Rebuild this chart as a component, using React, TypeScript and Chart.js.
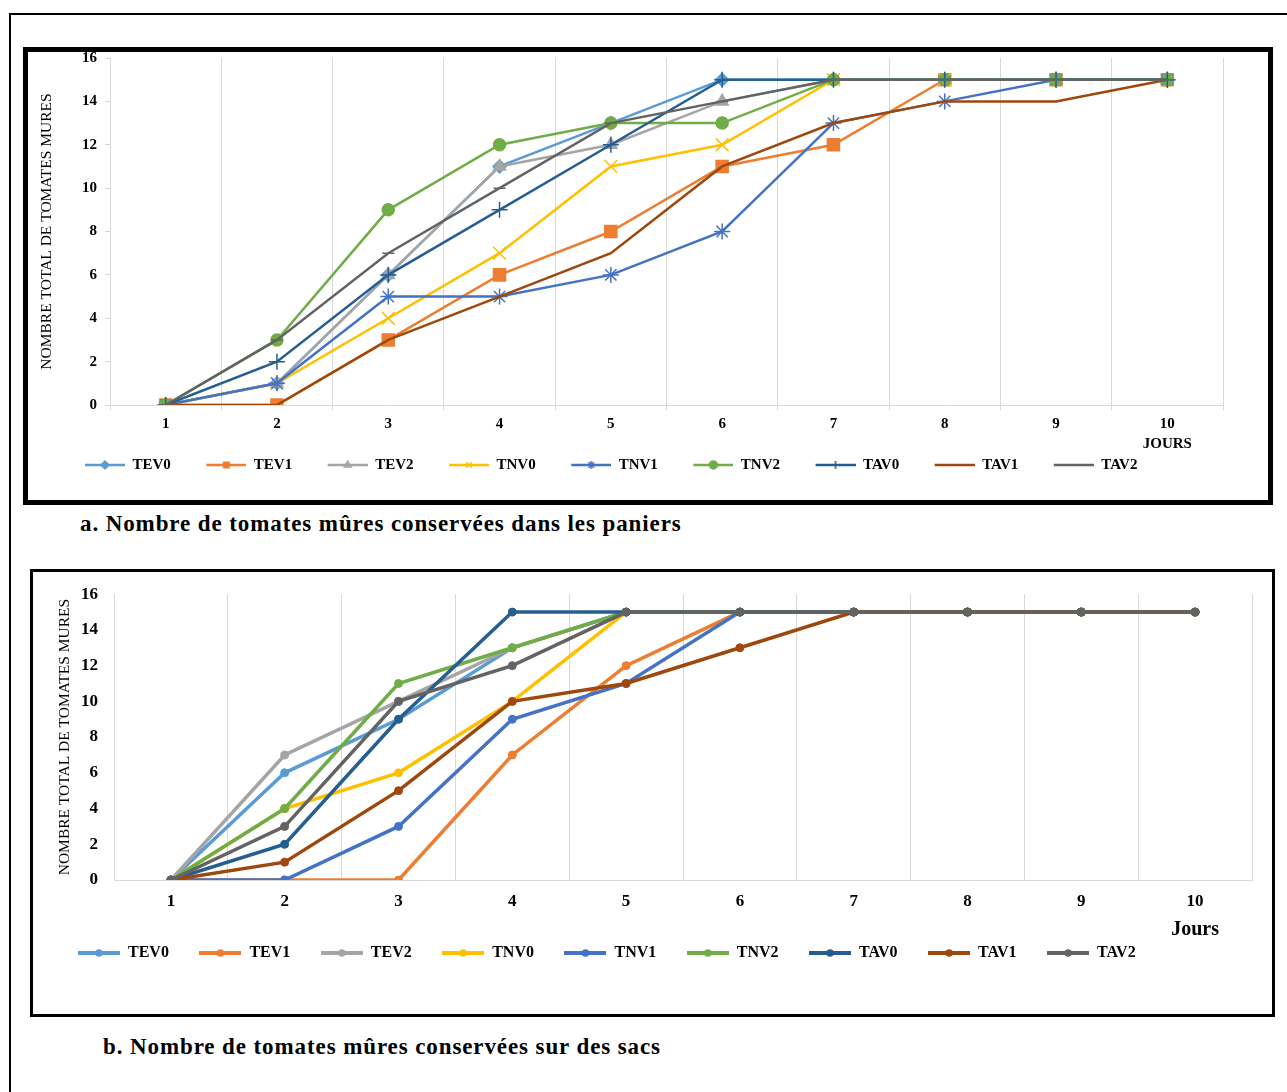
import React, { useEffect, useRef } from 'react';
import { Chart, registerables } from 'chart.js';
import { drawPoint } from 'chart.js/helpers';

Chart.register(...registerables);

// ---------- data ----------
const days = ['1', '2', '3', '4', '5', '6', '7', '8', '9', '10'];
const yTickValues = [0, 2, 4, 6, 8, 10, 12, 14, 16];
const seriesNames = ['TEV0', 'TEV1', 'TEV2', 'TNV0', 'TNV1', 'TNV2', 'TAV0', 'TAV1', 'TAV2'];
const seriesColors = ['#5B9BD5', '#ED7D31', '#A5A5A5', '#FFC000', '#4472C4', '#70AD47', '#255E91', '#9E480E', '#636363'];
const basketMarkers = ['rectRot', 'rect', 'triangle', 'crossRot', 'star', 'circle', 'cross', '', 'line'];
const basketMarkerRadius = [6.5, 8.5, 7, 9, 8, 6, 8, 0, 6];

// a. baskets (paniers)
const basketTEV0 = [0, 1, 6, 11, 13, 15, 15, 15, 15, 15];
const basketTEV1 = [0, 0, 3, 6, 8, 11, 12, 15, 15, 15];
const basketTEV2 = [0, 1, 6, 11, 12, 14, 15, 15, 15, 15];
const basketTNV0 = [0, 1, 4, 7, 11, 12, 15, 15, 15, 15];
const basketTNV1 = [0, 1, 5, 5, 6, 8, 13, 14, 15, 15];
const basketTNV2 = [0, 3, 9, 12, 13, 13, 15, 15, 15, 15];
const basketTAV0 = [0, 2, 6, 9, 12, 15, 15, 15, 15, 15];
const basketTAV1 = [0, 0, 3, 5, 7, 11, 13, 14, 14, 15];
const basketTAV2 = [0, 3, 7, 10, 13, 14, 15, 15, 15, 15];

// b. bags (sacs)
const bagTEV0 = [0, 6, 9, 13, 15, 15, 15, 15, 15, 15];
const bagTEV1 = [0, 0, 0, 7, 12, 15, 15, 15, 15, 15];
const bagTEV2 = [0, 7, 10, 13, 15, 15, 15, 15, 15, 15];
const bagTNV0 = [0, 4, 6, 10, 15, 15, 15, 15, 15, 15];
const bagTNV1 = [0, 0, 3, 9, 11, 15, 15, 15, 15, 15];
const bagTNV2 = [0, 4, 11, 13, 15, 15, 15, 15, 15, 15];
const bagTAV0 = [0, 2, 9, 15, 15, 15, 15, 15, 15, 15];
const bagTAV1 = [0, 1, 5, 10, 11, 13, 15, 15, 15, 15];
const bagTAV2 = [0, 3, 10, 12, 15, 15, 15, 15, 15, 15];

const basketValues = [basketTEV0, basketTEV1, basketTEV2, basketTNV0, basketTNV1, basketTNV2, basketTAV0, basketTAV1, basketTAV2];
const bagValues = [bagTEV0, bagTEV1, bagTEV2, bagTNV0, bagTNV1, bagTNV2, bagTAV0, bagTAV1, bagTAV2];

const yTitle = 'NOMBRE TOTAL DE TOMATES MURES';
const captionA = 'a. Nombre de tomates mûres conservées dans les paniers';
const captionB = 'b. Nombre de tomates mûres conservées sur des sacs';

// ---------- styles ----------
const SERIF = '"Liberation Serif", "Times New Roman", serif';
const GRID = '#d9d9d9';

// legend sample: transparent left margin, then a line with a marker in its middle
function legendImage(color: string, lineWidth: number, style: string, radius: number, margin: number, lineLen: number, height: number) {
  const c = document.createElement('canvas');
  c.width = margin + lineLen;
  c.height = height;
  const ctx = c.getContext('2d')!;
  ctx.strokeStyle = color;
  ctx.lineWidth = lineWidth;
  ctx.beginPath();
  ctx.moveTo(margin, height / 2);
  ctx.lineTo(margin + lineLen, height / 2);
  ctx.stroke();
  if (style) {
    ctx.fillStyle = color;
    ctx.strokeStyle = color;
    ctx.lineWidth = 1.5;
    drawPoint(ctx, { pointStyle: style as any, rotation: 0, radius, borderWidth: 1.5 } as any, margin + lineLen / 2, height / 2);
  }
  return c;
}

function axisEndTitle(id: string, text: string, font: string, offsetY: number) {
  return {
    id,
    afterDraw(chart: any) {
      const xs = chart.scales.x;
      const ctx = chart.ctx;
      ctx.save();
      ctx.font = font;
      ctx.fillStyle = '#000';
      ctx.textAlign = 'center';
      ctx.textBaseline = 'middle';
      ctx.fillText(text, xs.getPixelForValue(days.length - 1), xs.top + offsetY);
      ctx.restore();
    },
  };
}

function legendLabels(imgs: HTMLCanvasElement[]) {
  return (chart: any) =>
    chart.data.datasets.map((ds: any, i: number) => ({
      text: ds.label,
      pointStyle: imgs[i],
      fillStyle: seriesColors[i],
      strokeStyle: seriesColors[i],
      lineWidth: 0,
      hidden: false,
      datasetIndex: i,
      rotation: 0,
    }));
}

function configA(): any {
  const margin = 11;
  const imgs = seriesNames.map((_, i) =>
    legendImage(seriesColors[i], 2.5, basketMarkers[i], Math.min(4, basketMarkerRadius[i]), margin, 40, 16)
  );
  return {
    type: 'line',
    data: {
      labels: days,
      datasets: seriesNames.map((name, i) => ({
        label: name,
        data: basketValues[i],
        borderColor: seriesColors[i],
        backgroundColor: seriesColors[i],
        borderWidth: 2.5,
        pointStyle: basketMarkers[i] || 'circle',
        pointRadius: basketMarkers[i] ? basketMarkerRadius[i] : 0,
        pointBorderWidth: 1.5,
        pointBackgroundColor: seriesColors[i],
        pointBorderColor: seriesColors[i],
        tension: 0,
        order: 8 - i,
      })),
    },
    options: {
      responsive: false,
      animation: false,
      devicePixelRatio: 1,
      events: [],
      layout: { padding: { left: 26.5, right: 45, top: 0, bottom: 17.5 } },
      plugins: {
        tooltip: { enabled: false },
        legend: {
          position: 'bottom',
          align: 'start',
          labels: {
            usePointStyle: true,
            pointStyleWidth: margin + 40,
            padding: 24.5,
            color: '#000',
            font: { family: SERIF, size: 15, weight: 'bold' },
            generateLabels: legendLabels(imgs),
          },
        },
      },
      scales: {
        x: {
          offset: true,
          grid: { offset: true, color: GRID, drawTicks: true, tickLength: 5 },
          border: { color: GRID },
          ticks: { color: '#000', font: { family: SERIF, size: 15, weight: 'bold' }, padding: 5, maxRotation: 0, autoSkip: false },
          afterFit: (s: any) => { s.height = 28; },
        },
        y: {
          min: 0,
          max: 16,
          grid: { drawOnChartArea: false, drawTicks: true, tickLength: 5, color: GRID },
          border: { color: GRID },
          ticks: { color: '#000', font: { family: SERIF, size: 15, weight: 'bold' }, padding: 8 },
          afterBuildTicks: (s: any) => { s.ticks = yTickValues.map((v) => ({ value: v })); },
          title: { display: true, text: yTitle, color: '#000', font: { family: SERIF, size: 15.5 }, padding: { top: -11.8, bottom: 0 } },
          afterFit: (s: any) => { s.width = 60.5; },
        },
      },
    },
    plugins: [axisEndTitle('joursA', 'JOURS', `bold 15px ${SERIF}`, 39)],
  };
}

function configB(): any {
  const imgs = seriesNames.map((_, i) => legendImage(seriesColors[i], 4, 'circle', 3, 0, 42, 16));
  return {
    type: 'line',
    data: {
      labels: days,
      datasets: seriesNames.map((name, i) => ({
        label: name,
        data: bagValues[i],
        borderColor: seriesColors[i],
        backgroundColor: seriesColors[i],
        borderWidth: 3.5,
        pointStyle: 'circle',
        pointRadius: 4,
        pointBorderWidth: 1,
        pointBackgroundColor: seriesColors[i],
        pointBorderColor: seriesColors[i],
        tension: 0,
        order: 8 - i,
      })),
    },
    options: {
      responsive: false,
      animation: false,
      devicePixelRatio: 1,
      events: [],
      layout: { padding: { left: 17.5, right: 20, top: 0, bottom: 43 } },
      plugins: {
        tooltip: { enabled: false },
        legend: {
          position: 'bottom',
          align: 'start',
          labels: {
            usePointStyle: true,
            pointStyleWidth: 42,
            padding: 30.5,
            color: '#000',
            font: { family: SERIF, size: 16, weight: 'bold' },
            generateLabels: legendLabels(imgs),
          },
        },
      },
      scales: {
        x: {
          offset: true,
          grid: { offset: true, color: GRID, drawTicks: false },
          border: { color: GRID },
          ticks: { color: '#000', font: { family: SERIF, size: 17, weight: 'bold' }, padding: 11.8, maxRotation: 0, autoSkip: false },
          afterFit: (s: any) => { s.height = 34.5; },
        },
        y: {
          min: 0,
          max: 16,
          grid: { drawOnChartArea: false, drawTicks: false, color: GRID },
          border: { color: GRID },
          ticks: { color: '#000', font: { family: SERIF, size: 17, weight: 'bold' }, padding: 16 },
          afterBuildTicks: (s: any) => { s.ticks = yTickValues.map((v) => ({ value: v })); },
          title: { display: true, text: yTitle, color: '#000', font: { family: SERIF, size: 15.5 }, padding: { top: 8.2, bottom: 0 } },
          afterFit: (s: any) => { s.width = 66.5; },
        },
      },
    },
    plugins: [axisEndTitle('joursB', 'Jours', `bold 20px ${SERIF}`, 50)],
  };
}

export default function App() {
  const refA = useRef<HTMLCanvasElement>(null);
  const refB = useRef<HTMLCanvasElement>(null);

  useEffect(() => {
    const a = new Chart(refA.current!, configA());
    const b = new Chart(refB.current!, configB());
    return () => {
      a.destroy();
      b.destroy();
    };
  }, []);

  const caption: React.CSSProperties = {
    position: 'absolute',
    fontFamily: SERIF,
    fontWeight: 'bold',
    fontSize: 23,
    letterSpacing: '0.9px',
    lineHeight: '24px',
    color: '#000',
    whiteSpace: 'nowrap',
  };

  return (
    <div style={{ position: 'fixed', left: 0, top: 0, width: 1287, height: 1092, background: '#fff', overflow: 'hidden' }}>
      <div style={{ position: 'absolute', left: 9, top: 13, width: 1300, height: 1100, borderLeft: '2px solid #000', borderTop: '2px solid #000' }} />
      <div style={{ position: 'absolute', left: 23, top: 47, width: 1250, height: 458, border: '5px solid #000', boxSizing: 'border-box' }} />
      <canvas ref={refA} width={1245} height={459} style={{ position: 'absolute', left: 23, top: 41, width: 1245, height: 459 }} />
      <div style={{ ...caption, left: 80, top: 512 }}>{captionA}</div>
      <div style={{ position: 'absolute', left: 30, top: 569, width: 1245, height: 448, border: '3px solid #000', boxSizing: 'border-box' }} />
      <canvas ref={refB} width={1242} height={446} style={{ position: 'absolute', left: 30, top: 568, width: 1242, height: 446 }} />
      <div style={{ ...caption, left: 103, top: 1035 }}>{captionB}</div>
    </div>
  );
}
